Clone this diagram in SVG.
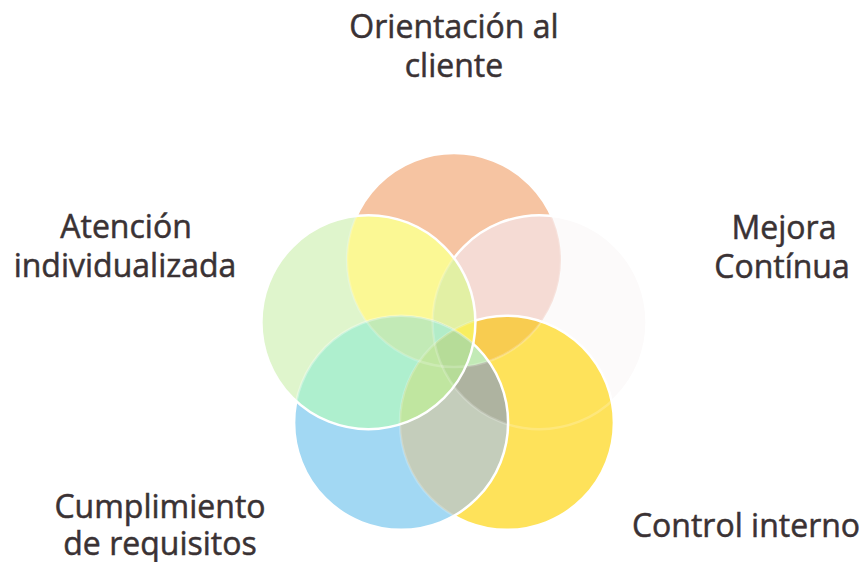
<svg xmlns="http://www.w3.org/2000/svg" xmlns:xlink="http://www.w3.org/1999/xlink" width="863" height="562" viewBox="0 0 863 562">
<style>
  .lbl { font-family: "Open Sans", "Liberation Sans", sans-serif; font-size: 32px; fill: #3a3234; stroke: #3a3234; stroke-width: 0.5; text-anchor: middle; }
  .ol { fill: none; stroke: #ffffff; stroke-width: 2.5; }
</style>
<defs>
  <circle id="cO" cx="454" cy="260" r="107"/>
  <circle id="cP" cx="539.6" cy="322.2" r="107"/>
  <circle id="cY" cx="506.9" cy="422.8" r="107"/>
  <circle id="cB" cx="401.1" cy="422.8" r="107"/>
  <circle id="cG" cx="368.4" cy="322.2" r="107"/>
  <clipPath id="kO"><use xlink:href="#cO"/></clipPath>
  <clipPath id="kP"><use xlink:href="#cP"/></clipPath>
  <clipPath id="kY"><use xlink:href="#cY"/></clipPath>
  <clipPath id="kB"><use xlink:href="#cB"/></clipPath>
  <clipPath id="kG"><use xlink:href="#cG"/></clipPath>
  <mask id="mO" maskUnits="userSpaceOnUse" x="0" y="0" width="863" height="562">
    <rect width="863" height="562" fill="#fff"/>
    <use xlink:href="#cP" fill="#333"/><use xlink:href="#cY" fill="#333"/><use xlink:href="#cB" fill="#333"/><use xlink:href="#cG" fill="#333"/>
  </mask>
  <mask id="mP" maskUnits="userSpaceOnUse" x="0" y="0" width="863" height="562">
    <rect width="863" height="562" fill="#fff"/>
    <use xlink:href="#cY" fill="#333"/><use xlink:href="#cB" fill="#333"/><use xlink:href="#cG" fill="#333"/>
  </mask>
  <mask id="mY" maskUnits="userSpaceOnUse" x="0" y="0" width="863" height="562">
    <rect width="863" height="562" fill="#fff"/>
    <use xlink:href="#cB" fill="#333"/><use xlink:href="#cG" fill="#333"/>
  </mask>
  <mask id="mB" maskUnits="userSpaceOnUse" x="0" y="0" width="863" height="562">
    <rect width="863" height="562" fill="#fff"/>
    <use xlink:href="#cG" fill="#555"/>
  </mask>
</defs>
<rect width="863" height="562" fill="#ffffff"/>

<g id="node-orientacion">
  <use xlink:href="#cO" fill="#f6c4a2"/>
  <text class="lbl" x="454" y="38">Orientación al</text>
  <text class="lbl" x="454" y="77">cliente</text>
</g>
<g id="node-mejora">
  <use xlink:href="#cP" fill="#fcfafa"/>
  <text class="lbl" x="784" y="239">Mejora</text>
  <text class="lbl" x="782" y="278">Contínua</text>
</g>
<g id="node-control">
  <use xlink:href="#cY" fill="#fee25a"/>
  <text class="lbl" x="746" y="537">Control interno</text>
</g>
<g id="node-cumplimiento">
  <use xlink:href="#cB" fill="#a2d8f3"/>
  <text class="lbl" x="160" y="518">Cumplimiento</text>
  <text class="lbl" x="160" y="555">de requisitos</text>
</g>
<g id="node-atencion">
  <use xlink:href="#cG" fill="#dff5cc"/>
  <text class="lbl" x="126" y="238">Atención</text>
  <text class="lbl" x="125" y="277">individualizada</text>
</g>

<g id="overlaps">
  <g clip-path="url(#kO)"><use xlink:href="#cP" fill="#f5dbd4"/></g>
  <g clip-path="url(#kO)"><use xlink:href="#cG" fill="#fbf894"/></g>
  <g clip-path="url(#kG)"><use xlink:href="#cB" fill="#aeefce"/></g>
  <g clip-path="url(#kY)"><use xlink:href="#cB" fill="#c4cdbb"/></g>
  <g clip-path="url(#kO)"><use xlink:href="#cY" fill="#f8cc50"/></g>
  <g clip-path="url(#kP)"><use xlink:href="#cG" fill="#e2f0a4"/></g>
  <g clip-path="url(#kG)"><use xlink:href="#cY" fill="#bfe7a2"/></g>
  <g clip-path="url(#kP)"><use xlink:href="#cB" fill="#aeb3a0"/></g>
  <g clip-path="url(#kO)"><use xlink:href="#cB" fill="#c2eab6"/></g>
  <g clip-path="url(#kO)"><g clip-path="url(#kG)"><g clip-path="url(#kP)"><use xlink:href="#cB" fill="#b2ecc8"/></g></g></g>
  <g clip-path="url(#kO)"><g clip-path="url(#kG)"><g clip-path="url(#kP)"><use xlink:href="#cY" fill="#f8ee60"/></g></g></g>
  <g clip-path="url(#kG)"><g clip-path="url(#kB)"><use xlink:href="#cY" fill="#c0e6a0"/></g></g>
  <g clip-path="url(#kG)"><g clip-path="url(#kB)"><g clip-path="url(#kY)"><use xlink:href="#cP" fill="#b6dc98"/></g></g></g>
</g>

<g id="outlines">
  <use xlink:href="#cO" class="ol" mask="url(#mO)"/>
  <use xlink:href="#cP" class="ol" mask="url(#mP)"/>
  <use xlink:href="#cY" class="ol" mask="url(#mY)"/>
  <use xlink:href="#cB" class="ol" mask="url(#mB)"/>
  <use xlink:href="#cG" class="ol"/>
</g>
</svg>
